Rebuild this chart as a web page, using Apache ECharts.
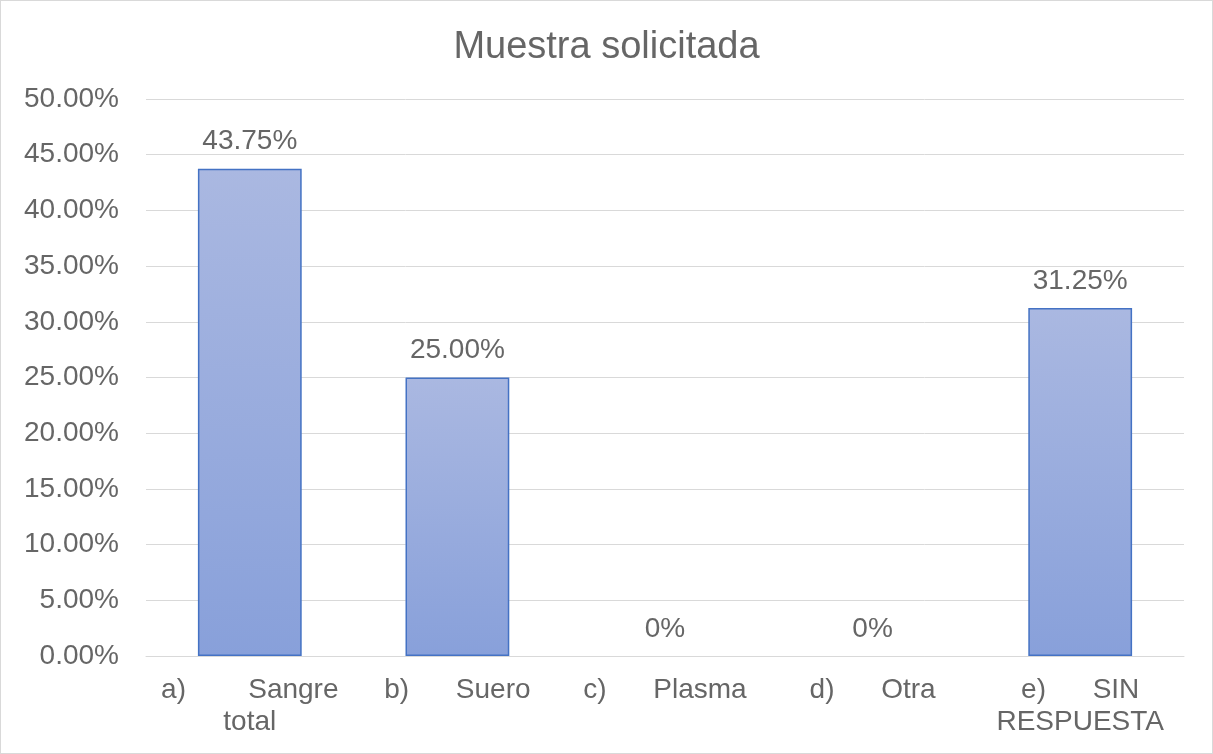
<!DOCTYPE html>
<html>
<head>
<meta charset="utf-8">
<script src="https://cdn.jsdelivr.net/npm/echarts@6/dist/echarts.min.js"></script>
<style>
  html, body { margin: 0; padding: 0; background: #fff; }
  #chart { width: 1211px; height: 752px; border: 1px solid #d9d9d9; }
</style>
</head>
<body>
<div id="chart"></div>
<script>
// datos del gráfico
var categories = ['a)        Sangre\ntotal', 'b)      Suero', 'c)      Plasma', 'd)      Otra', 'e)      SIN\nRESPUESTA'];
var values = [43.75, 25.00, 0, 0, 31.25];
var titleText = 'Muestra solicitada';

var chart = echarts.init(document.getElementById('chart'));
var textColor = '#666666';
var fontFam = '"Liberation Sans", Arial, sans-serif';

// barras en cero sin borde visible
var barData = values.map(function (v) {
    return v === 0 ? { value: v, itemStyle: { borderWidth: 0 } } : v;
});

chart.setOption({
    animation: false,
    title: {
        text: titleText,
        left: 'center',
        top: 23,
        textStyle: { color: textColor, fontSize: 38, fontWeight: 'normal', fontFamily: fontFam }
    },
    grid: { left: 145, right: 28, top: 98, bottom: 97 },
    xAxis: {
        type: 'category',
        data: categories,
        axisLine: { lineStyle: { color: '#d9d9d9', width: 1 } },
        axisTick: { show: false },
        axisLabel: { color: textColor, fontSize: 28, fontFamily: fontFam, margin: 18, lineHeight: 32, interval: 0 }
    },
    yAxis: {
        type: 'value',
        min: 0,
        max: 50,
        interval: 5,
        axisLine: { show: false },
        axisTick: { show: false },
        splitLine: { lineStyle: { color: '#d9d9d9', width: 1 } },
        axisLabel: {
            color: textColor, fontSize: 28, fontFamily: fontFam, margin: 27,
            formatter: function (v) { return v.toFixed(2) + '%'; }
        }
    },
    series: [{
        type: 'bar',
        data: barData,
        barWidth: '50%',
        itemStyle: {
            color: new echarts.graphic.LinearGradient(0, 0, 0, 1, [
                { offset: 0, color: '#aab8e1' },
                { offset: 1, color: '#88a0da' }
            ]),
            borderColor: '#4472c4',
            borderWidth: 1.5
        },
        label: {
            show: true,
            position: 'top',
            distance: 13,
            color: textColor,
            fontSize: 28,
            fontFamily: fontFam,
            formatter: function (p) { return p.value === 0 ? '0%' : p.value.toFixed(2) + '%'; }
        }
    }]
});
</script>
</body>
</html>
